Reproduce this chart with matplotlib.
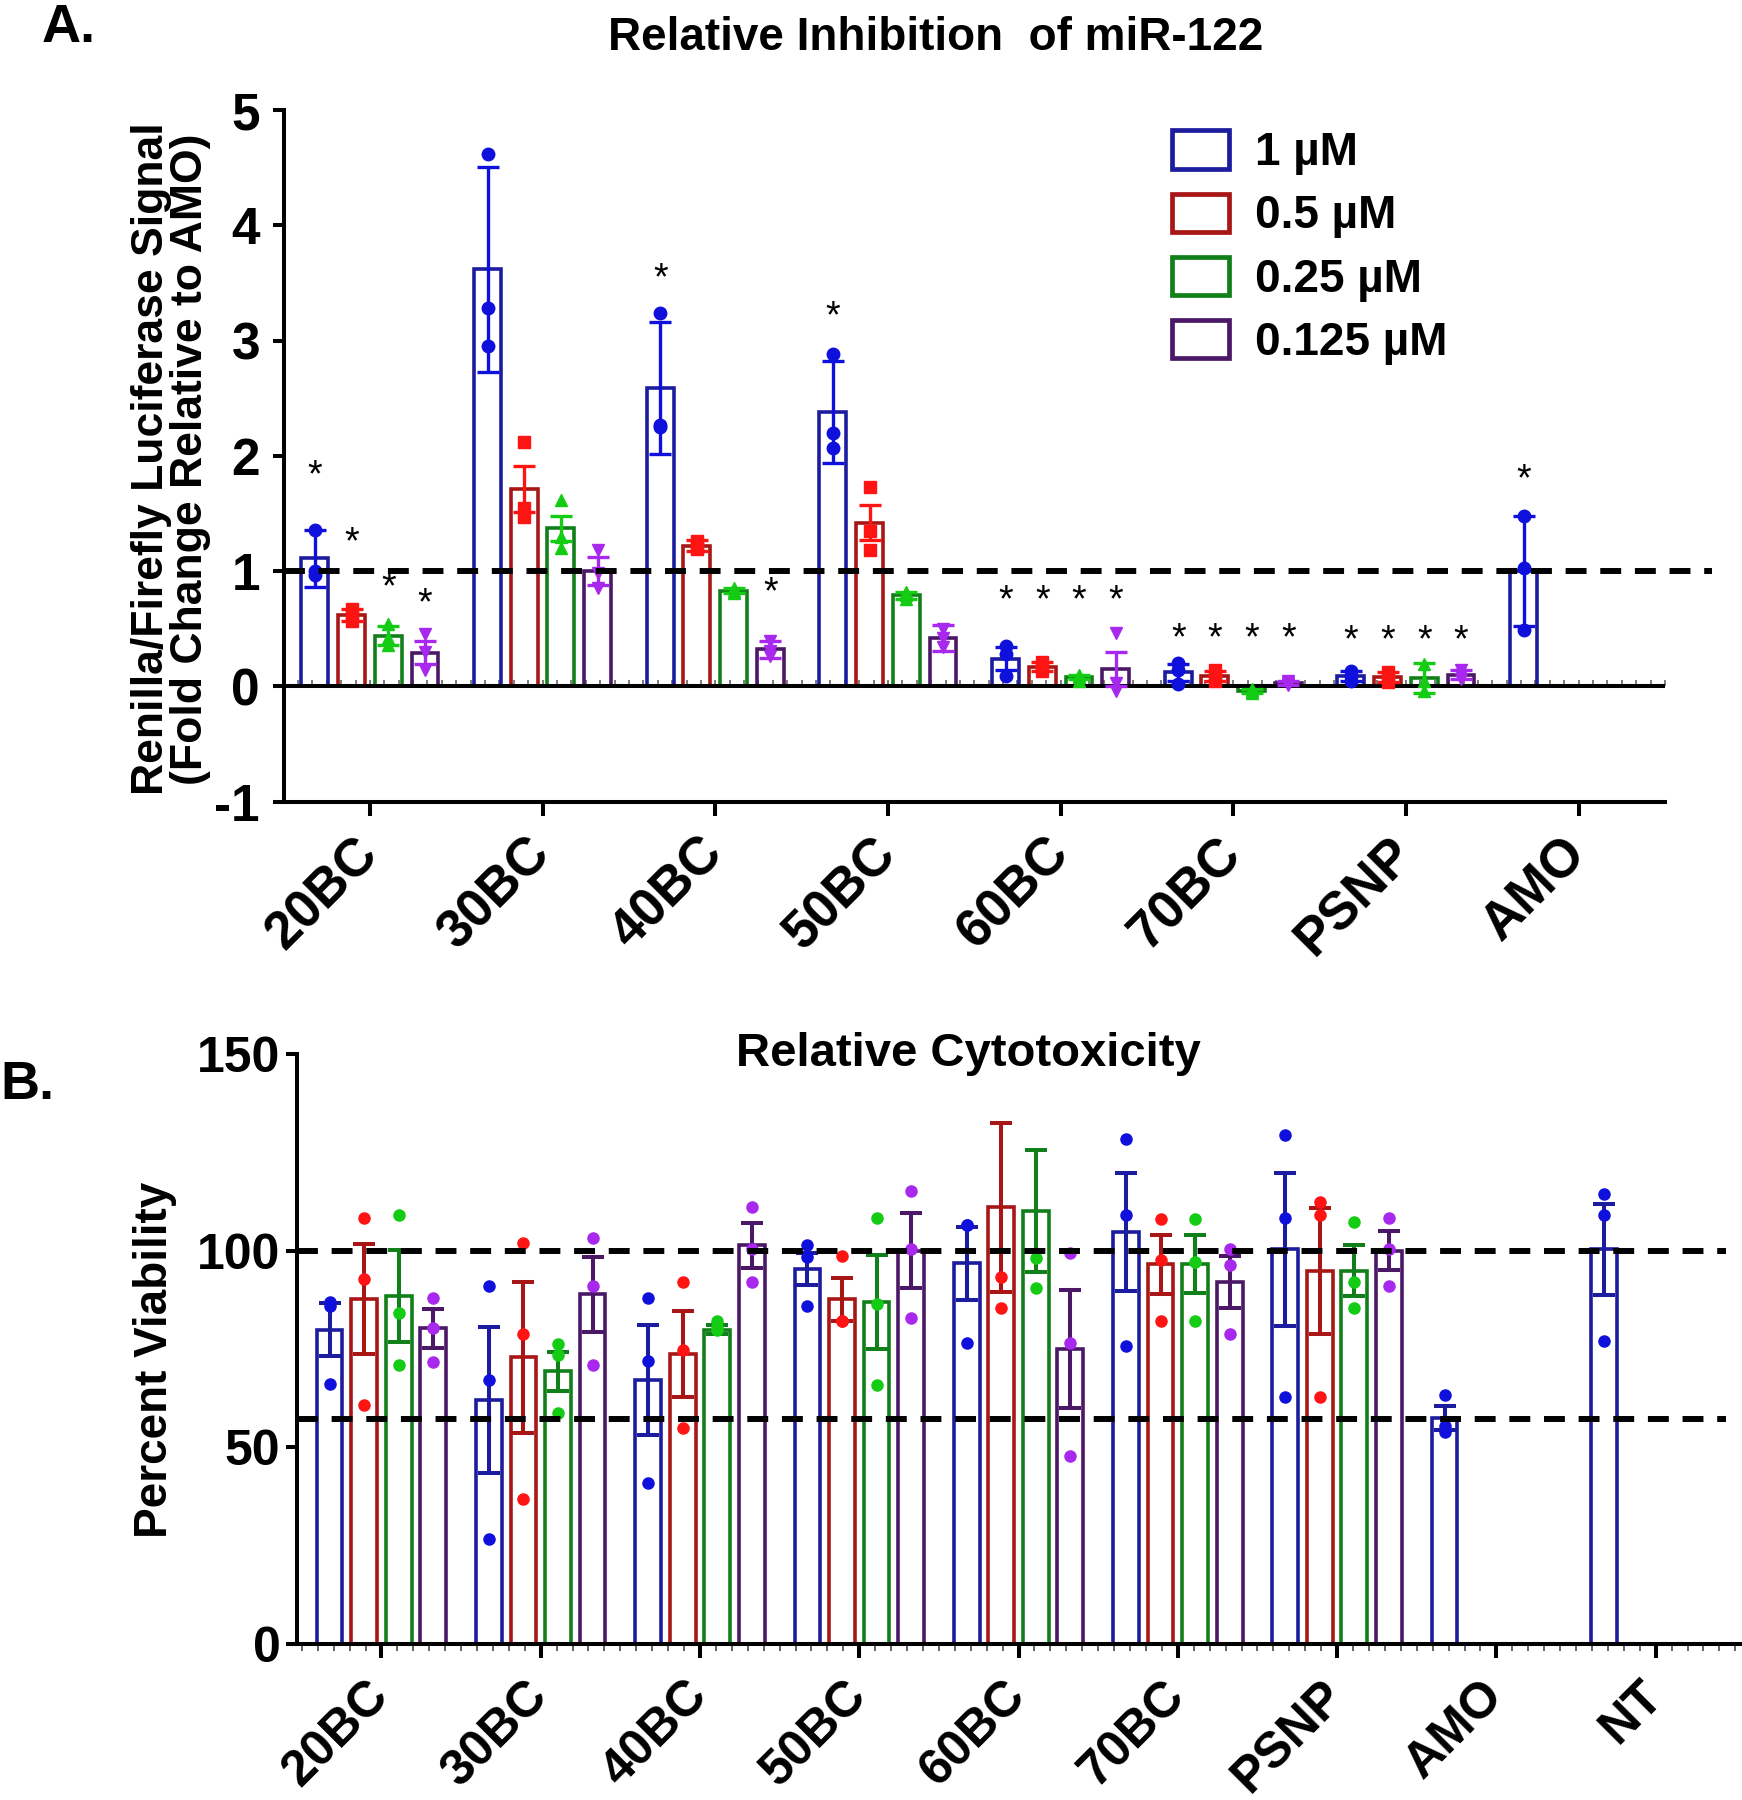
import numpy as np
import matplotlib.pyplot as plt
from matplotlib.patches import Patch
from matplotlib.ticker import MultipleLocator

plt.rcParams['font.family'] = ['Liberation Sans', 'DejaVu Sans']
plt.rcParams['font.weight'] = 'bold'
plt.rcParams['axes.unicode_minus'] = False

nan = np.nan

doses = ['1 µM', '0.5 µM', '0.25 µM', '0.125 µM']

# ---- panel A : relative inhibition of miR-122 (fold change vs AMO)
groups_a = ['20BC', '30BC', '40BC', '50BC', '60BC', '70BC', 'PSNP', 'AMO']
mean_a = [
    [1.11, 3.62, 2.59, 2.38, 0.24, 0.12, 0.09, 1.00],
    [0.62, 1.71, 1.22, 1.42, 0.17, 0.09, 0.08, nan],
    [0.44, 1.37, 0.83, 0.79, 0.08, -0.04, 0.07, nan],
    [0.29, 1.00, 0.32, 0.42, 0.15, 0.03, 0.10, nan],
]
err_a = [
    [0.25, 0.89, 0.57, 0.44, 0.10, 0.07, 0.04, 0.48],
    [0.05, 0.20, 0.05, 0.15, 0.04, 0.04, 0.04, nan],
    [0.08, 0.11, 0.02, 0.03, 0.02, 0.02, 0.13, nan],
    [0.10, 0.12, 0.07, 0.11, 0.15, 0.02, 0.04, nan],
]
pts_a = [
    [[1.36, 1.00, 0.97], [4.62, 3.28, 2.95], [3.24, 2.25, 2.27], [2.88, 2.20, 2.07],
     [0.35, 0.28, 0.09], [0.20, 0.14, 0.02], [0.13, 0.09, 0.05], [1.48, 1.03, 0.49]],
    [[0.67, 0.62, 0.57], [2.12, 1.55, 1.47], [1.26, 1.21, 1.19], [1.73, 1.35, 1.18],
     [0.21, 0.17, 0.13], [0.14, 0.09, 0.05], [0.12, 0.08, 0.04], []],
    [[0.54, 0.42, 0.36], [1.62, 1.30, 1.20], [0.85, 0.83, 0.81], [0.82, 0.79, 0.76],
     [0.10, 0.08, 0.05], [-0.02, -0.04, -0.06], [0.19, 0.05, -0.04], []],
    [[0.45, 0.30, 0.14], [1.18, 0.98, 0.85], [0.39, 0.31, 0.26], [0.50, 0.42, 0.34],
     [0.46, 0.03, -0.04], [0.05, 0.03, 0.01], [0.14, 0.10, 0.06], []],
]
# significance stars: group index, dose index, height
star_grp = [0, 0, 0, 0, 2, 2, 3, 4, 4, 4, 4, 5, 5, 5, 5, 6, 6, 6, 6, 7]
star_dose = [0, 1, 2, 3, 0, 3, 0, 0, 1, 2, 3, 0, 1, 2, 3, 0, 1, 2, 3, 0]
star_y = [1.82, 1.24, 0.85, 0.71, 3.53, 0.81, 3.20, 0.74, 0.74, 0.74, 0.74,
          0.41, 0.41, 0.41, 0.41, 0.39, 0.39, 0.39, 0.39, 1.79]

# ---- panel B : relative cytotoxicity (percent viability)
groups_b = ['20BC', '30BC', '40BC', '50BC', '60BC', '70BC', 'PSNP', 'AMO', 'NT']
mean_b = [
    [79.9, 62.0, 67.1, 95.3, 96.8, 104.7, 100.3, 57.5, 100.3],
    [87.6, 72.9, 73.8, 87.6, 111.0, 96.5, 94.9, nan, nan],
    [88.5, 69.3, 79.9, 86.9, 110.0, 96.5, 94.9, nan, nan],
    [80.2, 88.9, 101.3, 100.0, 74.9, 92.0, 100.0, nan, nan],
]
err_b = [
    [6.7, 18.6, 13.9, 4.0, 9.3, 15.0, 19.4, 3.0, 11.5],
    [14.0, 19.2, 10.9, 5.5, 21.5, 7.5, 16.0, nan, nan],
    [11.7, 5.0, 1.2, 12.0, 15.5, 7.4, 6.5, nan, nan],
    [5.0, 9.5, 5.7, 9.5, 15.0, 6.6, 5.0, nan, nan],
]
pts_b = [
    [[87.0, 86.0, 66.0], [90.9, 67.1, 26.7], [88.0, 71.9, 40.8], [101.3, 98.3, 86.0],
     [106.5, 106.5, 76.5], [128.3, 109.0, 75.8], [129.3, 108.3, 62.8], [63.2, 55.5, 53.8],
     [114.3, 109.0, 76.9]],
    [[108.3, 92.9, 60.8], [102.0, 78.9, 36.8], [92.0, 74.6, 54.8], [98.7, 82.0, 82.0],
     [154.5, 93.3, 85.4], [108.0, 97.6, 82.0], [112.3, 109.0, 62.8], [], []],
    [[109.0, 84.2, 70.9], [76.2, 73.5, 58.8], [82.2, 80.5, 79.9], [108.3, 86.5, 65.9],
     [98.1, 90.5], [108.0, 97.0, 82.0], [107.2, 92.0, 85.3], [], []],
    [[88.0, 80.2, 71.8], [103.2, 90.9, 70.9], [111.2, 100.3, 92.0], [115.2, 100.3, 82.9],
     [99.4, 76.5, 47.9], [100.3, 96.3, 78.9], [108.3, 100.3, 90.9], [], []],
]
ref_b = [100, 57.3]  # dashed reference levels (NT and AMO)

edge = ['#1c1c9e', '#a81616', '#12801a', '#4b1868']
dots = ['#1010dc', '#ff1414', '#14cc14', '#a828ee']


def draw_bars(ax, groups, mean, err, pts, step, width, markers, ecols, ms, elw):
    x = np.arange(len(groups))
    for j in range(4):
        xs = x + (j - 1.5) * step
        m = np.array(mean[j], float)
        e = np.array(err[j], float)
        ok = ~np.isnan(m)
        ax.bar(xs[ok], m[ok], width, facecolor='none', edgecolor=edge[j],
               linewidth=2.6, zorder=2)
        ax.errorbar(xs[ok], m[ok], yerr=e[ok], fmt='none', ecolor=ecols[j],
                    elinewidth=elw, capsize=8, capthick=elw, zorder=4)
        for i, p in enumerate(pts[j]):
            if len(p):
                ax.plot([xs[i]] * len(p), p, ls='none', marker=markers[j],
                        color=dots[j], ms=ms, zorder=5)
    return x


fig = plt.figure(figsize=(17.42, 18), dpi=100)

# ---------------- A
axA = fig.add_axes([0.1628, 0.5547, 0.7930, 0.3841])
step_a = 0.2125
xa = draw_bars(axA, groups_a, mean_a, err_a, pts_a, step_a, 0.156,
               ['o', 's', '^', 'v'], dots, 9, 2.4)
for g, d, y in zip(star_grp, star_dose, star_y):
    axA.text(xa[g] + (d - 1.5) * step_a, y, '*', ha='center', va='center',
             fontsize=27, fontweight='normal', zorder=6)
axA.axhline(0, color='k', lw=2.9, zorder=3)
axA.plot([-0.5, 7.77], [1, 1], color='k', lw=4.3, ls=(0, (3.5, 2.3)),
         clip_on=False, zorder=6)
axA.set_xlim(-0.5, 7.5)
axA.set_ylim(-1, 5)
axA.set_xticks(xa)
axA.set_xticklabels(groups_a)
axA.set_yticks(range(-1, 6))
sec = axA.secondary_xaxis(1 / 6)
sec.set_xticks([])
sec.xaxis.set_minor_locator(MultipleLocator(1 / 12))
sec.tick_params(which='minor', direction='in', length=4, width=1.2, color='#666666')
sec.spines['bottom'].set_visible(False)

# ---------------- B
axB = fig.add_axes([0.1705, 0.0867, 0.8284, 0.3278])
step_b = 0.217
xb = draw_bars(axB, groups_b, mean_b, err_b, pts_b, step_b, 0.162,
               ['o'] * 4, edge, 8, 2.9)
for r in ref_b:
    axB.plot([-0.53, 8.44], [r, r], color='k', lw=4.3, ls=(0, (3.5, 2.3)),
             clip_on=False, zorder=6)
axB.set_xlim(-0.53, 8.53)
axB.set_ylim(0, 150)
axB.set_xticks(xb)
axB.set_xticklabels(groups_b)
axB.set_yticks([0, 50, 100, 150])
axB.xaxis.set_minor_locator(MultipleLocator(0.1))
axB.tick_params(axis='x', which='minor', length=5, width=1.3, color='#555555')

for ax, ysize, ypad, xsize, xpad in ((axA, 37, 9, 38, 22), (axB, 36, 4, 36, 22)):
    for s in ('top', 'right'):
        ax.spines[s].set_visible(False)
    for s in ('left', 'bottom'):
        ax.spines[s].set_linewidth(2.9)
    ax.tick_params(axis='y', which='major', length=8, width=2.9, labelsize=ysize, pad=ypad)
    ax.tick_params(axis='x', which='major', length=10, width=2.9, labelsize=xsize, pad=xpad)
    for lab in ax.get_xticklabels():
        lab.set_rotation(45)
        lab.set_ha('right')
        lab.set_va('center')
        lab.set_rotation_mode('anchor')

handles = [Patch(facecolor='white', edgecolor=c, linewidth=3.4) for c in edge]
fig.legend(handles, doses, loc='upper left', bbox_to_anchor=(0.6728, 0.9275),
           frameon=False, fontsize=33, handlelength=1.25, handleheight=0.9,
           handletextpad=0.55, labelspacing=0.4, borderpad=0, borderaxespad=0)

fig.text(0.5373, 0.9722, 'Relative Inhibition  of miR-122', ha='center',
         va='baseline', fontsize=33)
fig.text(0.5557, 0.4078, 'Relative Cytotoxicity', ha='center', va='baseline',
         fontsize=34)
fig.text(0.0240, 0.9767, 'A.', fontsize=39, va='baseline')
fig.text(0.0, 0.3895, 'B.', fontsize=39, va='baseline')
fig.text(0.098, 0.745, 'Renilla/Firefly Luciferase Signal\n(Fold Change Relative to AMO)',
         rotation=90, ha='center', va='center', fontsize=32, linespacing=0.95)
fig.text(0.089, 0.2444, 'Percent Viability', rotation=90, ha='center',
         va='center', fontsize=33)

fig.savefig('out.png', dpi=100)
